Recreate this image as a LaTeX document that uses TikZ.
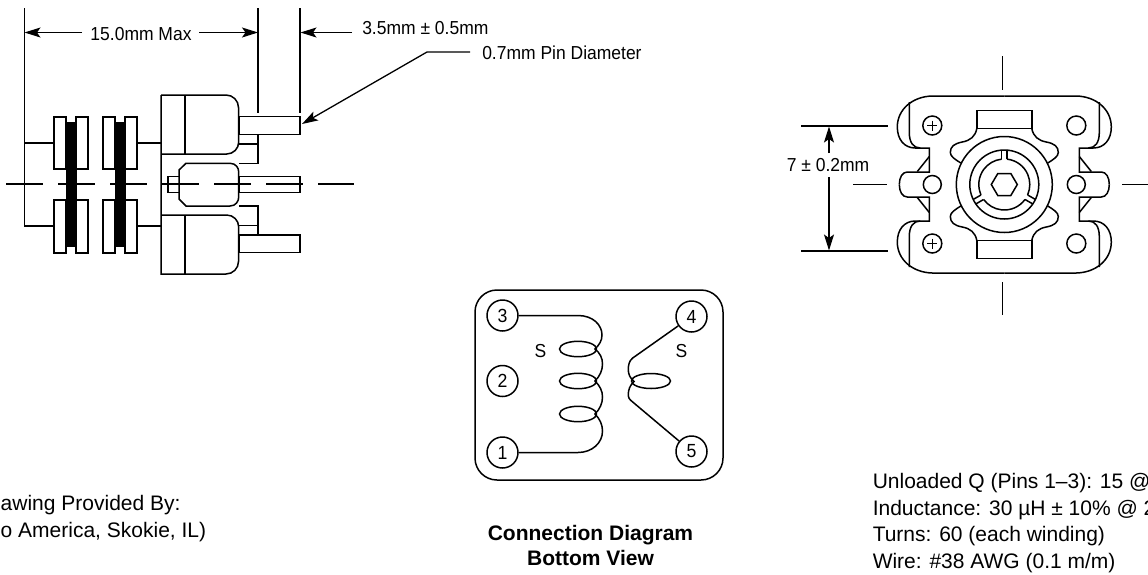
\documentclass[tikz,border=0pt]{standalone}
\usepackage{fontspec}
\setmainfont{Liberation Sans}
\newfontfamily\labfont[FakeStretch=0.93]{Liberation Sans}
\usetikzlibrary{arrows.meta,positioning,calc}

\begin{document}
\begin{tikzpicture}[x=1pt,y=-1pt,>={Stealth[length=16pt,width=10pt,inset=3.5pt]},
      line width=1.5pt,
      centre/.style={line width=1.1pt},
      dimline/.style={line width=1.3pt},
      lab/.style={inner sep=0pt,font=\labfont\fontsize{18.8}{20}\selectfont},
      note/.style={inner sep=0pt,anchor=west,align=left,font=\fontsize{21}{26.5}\selectfont},
      pin/.style={circle,draw=black,minimum size=31pt,inner sep=0pt,font=\labfont\fontsize{19}{20}\selectfont}]
      \useasboundingbox (0,0) rectangle (1148,574);

      % side view
      \draw[dimline] (24.5,8) -- (24.5,226) -- (54,226);
      \draw[dimline] (24.5,143) -- (54,143);
      \draw[dimline] (137,143) -- (161,143);
      \draw[dimline] (137,226) -- (161,226);
      \draw[dimline] (258,8) -- (258,113);
      \draw[dimline] (300,8) -- (300,113);
      \node[lab] at (141,34) (length) {15.0mm Max};
      \draw[dimline,->] (82,32.5) -- (24.5,32.5);
      \draw[dimline,->] (199,32.5) -- (258,32.5);
      \node[lab,anchor=west] at (361.5,28.5) (pinlength) {3.5mm ± 0.5mm};
      \draw[dimline,->] (352,32.5) -- (300.5,32.5);
      \node[lab,anchor=west] at (481.5,52.5) (pindia) {0.7mm Pin Diameter};
      \draw[dimline,->] (470,52) -- (427,52) -- (302,124);

      % bobbin
      \foreach \fx in {54,76,103,125} {
        \draw (\fx,117) rectangle ++(12,52);
        \draw (\fx,200) rectangle ++(12,53);
      }
      \fill[black] (66,122) rectangle (76.5,247);
      \fill[black] (115,122) rectangle (125.5,247);

      % can and pins
      \draw (161,95) -- (226,95) arc[start angle=-90,end angle=0,radius=12.5] -- (238.7,142)
        arc[start angle=0,end angle=90,radius=12] -- (161,154);
      \draw (161,95) -- (161,274) -- (226,274) arc[start angle=90,end angle=0,radius=12.5] -- (238.7,227)
        arc[start angle=0,end angle=-90,radius=12] -- (161,215);
      \draw (185,95) -- (185,154);
      \draw (185,215) -- (185,274);
      \draw (186,163.3) -- (230,163.3) .. controls (236,163.3) and (238.7,168) .. (238.7,172) -- (238.7,197)
        .. controls (238.7,201) and (236,206) .. (230,206) -- (186,206) -- (179,199) -- (179,170) -- cycle;
      \draw (179,176.7) -- (168,176.7) -- (168,192.3) -- (179,192.3);
      \draw (239,116.7) rectangle (300,134.3);
      \draw (239,176.7) rectangle (300,192.3);
      \draw (239,235) rectangle (300,252.7);
      \draw (239,134.3) -- (258,134.3) -- (258,163.3) -- (239,163.3);
      \draw (239,144) -- (258,144);
      \draw (239,235) -- (258,235) -- (258,206) -- (239,206);
      \draw (239,225.7) -- (258,225.7);
      \draw[centre,dash pattern=on 37pt off 15pt] (6,184) -- (354,184);

      % end view
      \draw[centre] (1002.3,56) -- (1002.3,90);
      \draw[centre] (1002.3,282) -- (1002.3,315);
      \draw[centre] (853,184.5) -- (887,184.5);
      \draw[centre] (1122,184.5) -- (1148,184.5);
      \draw[dimline] (801,126) -- (888,126);
      \draw[dimline] (801,251) -- (888,251);
      \node[lab] at (828,165.5) (height) {7 ± 0.2mm};
      \draw[dimline,->] (829,153) -- (829,126.5);
      \draw[dimline,->] (829,177) -- (829,250.5);
      \foreach \sx/\sy in {1/1,-1/1,1/-1,-1/-1} {
        \begin{scope}[shift={(1004.3,184.5)},xscale=\sx,yscale=\sy]
          \draw (0,-88.5) -- (-72,-88.5) .. controls (-92,-88) and (-107,-75) .. (-107,-57.5)
            .. controls (-107,-45) and (-100,-36.5) .. (-89,-36.5) -- (-75,-36.5) -- (-75,-12.5)
            -- (-97,-12.5) .. controls (-102,-12.5) and (-105,-7) .. (-105,0);
          \draw (-95,-82.5) -- (-95,-52) .. controls (-95,-42) and (-91,-36.5) .. (-84,-36.5);
          \draw (-75,-28) -- (-87,-13);
          \draw (-27.5,-74) rectangle (27.5,-56);
          \draw (-27.5,-56) .. controls (-29,-48) and (-34,-44) .. (-42,-42.5)
            .. controls (-50,-41) and (-54,-38) .. (-54,-32) .. controls (-54,-28) and (-49,-25) .. (-43.5,-21.5);
        \end{scope}
      }
      \begin{scope}[shift={(1004.3,184.5)}]
        \foreach \hx/\hy in {-72/-59,-72/59,72/-59,72/59} \draw[fill=white] (\hx,\hy) circle[radius=9.5];
        \foreach \hx in {-72,72} \draw[fill=white] (\hx,0) circle[radius=9];
        \foreach \hy in {-59,59} {
          \draw (-77,\hy) -- (-67,\hy);
          \draw (-72,\hy-5) -- (-72,\hy+5);
        }
        \draw (0,0) circle[radius=48];
        \draw (0,0) circle[radius=34.5];
        \foreach \a in {-90,30,150} {
          \draw ({\a+6}:25.5) arc[start angle=\a+6,end angle=\a+114,radius=25.5];
          \draw[rotate=-\a] (25.5,2.6) -- (34.5,2.6);
          \draw[rotate=-\a] (25.5,-2.6) -- (34.5,-2.6);
        }
        \draw (-13,0) -- (-6.5,-11) -- (6.5,-11) -- (13,0) -- (6.5,11) -- (-6.5,11) -- cycle;
      \end{scope}

      % connection diagram
      \draw[rounded corners=22pt] (475,290) rectangle (723,480);
      \node[pin] at (502.5,315.5) (pinc) {3};
      \node[pin] at (502.5,381) (pinb) {2};
      \node[pin] at (502.5,452.5) (pina) {1};
      \node[pin] at (691.5,316.5) (pind) {4};
      \node[pin] at (691.5,451.5) (pine) {5};
      \node[lab] at (540.5,351) (sleft) {S};
      \node[lab] at (681.5,351) (sright) {S};
      \draw (pinc.east) -- (578,315.5) .. controls (593,315.5) and (602,325) .. (602,335)
        .. controls (602,341) and (599,345) .. (595,349)
        .. controls (600,353) and (602.5,358) .. (602.5,364) .. controls (602.5,370) and (600,376) .. (595,381)
        .. controls (600,386) and (602.5,391) .. (602.5,397) .. controls (602.5,403) and (600,409) .. (595,414)
        .. controls (600,419) and (602.5,425) .. (602.5,431) .. controls (602.5,443) and (592,452.5) .. (578,452.5)
        -- (pina.east);
      \foreach \ey in {349,381,414} \draw (578,\ey) ellipse[x radius=18.5,y radius=7.7];
      \draw (pind) -- (632.7,358) .. controls (629,361) and (628.3,365) .. (628.3,370)
        .. controls (628.3,374) and (630,378) .. (634,381.5)
        .. controls (630,385) and (628.3,390) .. (628.3,394) .. controls (628.3,398) and (629,399) .. (632.7,402)
        -- (pine);
      \draw (651,381) ellipse[x radius=19.5,y radius=7.5];
      \node[inner sep=0pt,font=\fontsize{21}{25}\selectfont\bfseries,align=center] at (590.5,545.5) (caption) {Connection Diagram\\Bottom View};

      % notes
      \node[note] at (0,518.5) (credit) {awing Provided By:\\o America, Skokie, IL)};
      \node[note] at (872,523) (specs) {Unloaded Q (Pins 1–3): 15 @\\Inductance: 30 µH ± 10\% @ 2\\Turns: 60 (each winding)\\Wire: \#38 AWG (0.1 m/m)};
    \end{tikzpicture}
\end{document}
